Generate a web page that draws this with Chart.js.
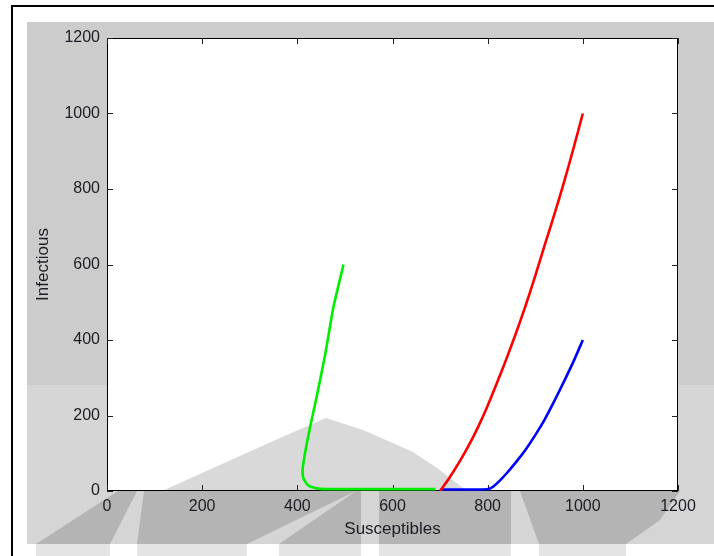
<!DOCTYPE html>
<html><head><meta charset="utf-8">
<script src="https://cdn.jsdelivr.net/npm/chart.js@4.4.0/dist/chart.umd.min.js"></script>
<style>html,body{margin:0;padding:0;background:#fff;overflow:hidden}canvas{display:block}</style>
</head><body>
<canvas id="c" width="714" height="556"></canvas>
<script>
// ---- data ----
const xTicks = [0, 200, 400, 600, 800, 1000, 1200];
const yTicks = [0, 200, 400, 600, 800, 1000, 1200];
const xTitle = 'Susceptibles';
const yTitle = 'Infectious';

const redS   = [1000, 980, 960, 940, 920, 900, 880, 860, 840, 820, 800, 780, 760, 740, 720, 700];
const redI   = [1000, 906, 816, 732, 652, 570, 492, 420, 352, 288, 226, 170, 120, 76, 36, 0];

const blueS  = [1000, 980, 960, 940, 920, 900, 880, 860, 840, 825, 812, 802, 790, 760, 730, 700];
const blueI  = [400, 342, 289, 238, 190, 148, 110, 77, 47, 27, 12, 5, 4, 4, 4, 4];

const greenS = [497, 476, 458, 441, 427, 416, 411, 413, 423, 441, 460, 500, 550, 600, 650, 690];
const greenI = [600, 488, 358, 252, 170, 99, 55, 33, 15, 7, 5, 5, 5, 5, 5, 5];

const FONT = '"Liberation Sans", Arial, sans-serif';
const TXT = '#1c1c24';

function pts(xs, ys) { return xs.map((x, i) => ({x: x, y: ys[i]})); }
function poly(ctx, p, color) {
  ctx.fillStyle = color; ctx.beginPath();
  p.forEach((q, i) => i ? ctx.lineTo(q[0], q[1]) : ctx.moveTo(q[0], q[1]));
  ctx.closePath(); ctx.fill();
}

const backdrop = {
  id: 'backdrop',
  beforeDraw(chart) {
    const ctx = chart.ctx, a = chart.chartArea;
    ctx.save();
    ctx.fillStyle = '#ffffff'; ctx.fillRect(0, 0, 714, 556);
    // figure background
    ctx.fillStyle = '#cccccc'; ctx.fillRect(27, 22, 687, 363);
    ctx.fillStyle = '#d5d5d5'; ctx.fillRect(27, 385, 687, 159);
    // watermark bands under the axes
    const dark = '#b4b4b4';
    poly(ctx, [[36,544],[110,544],[137,491],[118,491]], dark);
    poly(ctx, [[137,544],[247,544],[356,491],[144,491]], dark);
    poly(ctx, [[279,544],[361,544],[361,491],[356,491]], dark);
    poly(ctx, [[379,491],[511,491],[511,544],[379,544]], dark);
    poly(ctx, [[520,491],[680,491],[660,520],[626,544],[539,544]], dark);
    // faint shapes in the bottom strip
    const faint = '#e4e4e4';
    [[36,110],[137,247],[279,361],[379,511],[539,626]].forEach(r => { ctx.fillStyle = faint; ctx.fillRect(r[0], 544, r[1]-r[0], 12); });
    // outer frame
    ctx.fillStyle = '#000'; ctx.fillRect(11, 5, 703, 2); ctx.fillRect(11, 5, 2, 551);
    // plot area
    ctx.fillStyle = '#ffffff'; ctx.fillRect(a.left, a.top, a.right - a.left, a.bottom - a.top);
    poly(ctx, [[162,a.bottom],[280,438],[326,418],[363,430],[413,452],[437,468],[467,a.bottom]], '#d9d9d9');
    ctx.restore();
  }
};

const box = {
  id: 'box',
  beforeDatasetsDraw(chart) {
    const ctx = chart.ctx, a = chart.chartArea, sx = chart.scales.x, sy = chart.scales.y;
    ctx.save();
    ctx.strokeStyle = '#000'; ctx.lineWidth = 1;
    ctx.strokeRect(Math.round(a.left) + 0.5, Math.round(a.top) + 0.5, Math.round(a.right - a.left) - 1, Math.round(a.bottom - a.top) - 1);
    ctx.strokeStyle = '#222'; ctx.beginPath();
    const L = 6;
    xTicks.forEach(v => {
      const px = Math.round(sx.getPixelForValue(v)) + 0.5;
      ctx.moveTo(px, a.bottom); ctx.lineTo(px, a.bottom - L);
      ctx.moveTo(px, a.top); ctx.lineTo(px, a.top + L);
    });
    yTicks.forEach(v => {
      const py = Math.round(sy.getPixelForValue(v)) + 0.5;
      ctx.moveTo(a.left, py); ctx.lineTo(a.left + L, py);
      ctx.moveTo(a.right, py); ctx.lineTo(a.right - L, py);
    });
    ctx.stroke();
    ctx.restore();
  }
};

const lineDS = (label, xs, ys, color) => ({
  label, data: pts(xs, ys), showLine: true, borderColor: color, backgroundColor: color,
  borderWidth: 2.6, pointRadius: 0, tension: 0.2, fill: false
});

new Chart(document.getElementById('c'), {
  type: 'scatter',
  data: { datasets: [
    lineDS('red', redS, redI, '#ff0000'),
    lineDS('blue', blueS, blueI, '#0000ff'),
    lineDS('green', greenS, greenI, '#00ee00')
  ]},
  options: {
    responsive: false, animation: false, devicePixelRatio: 1,
    layout: { padding: { top: 38, right: 36, bottom: 0, left: 0 } },
    plugins: { legend: { display: false }, tooltip: { enabled: false } },
    scales: {
      x: {
        type: 'linear', min: 0, max: 1200,
        afterBuildTicks: s => { s.ticks = xTicks.map(v => ({value: v})); },
        ticks: { color: TXT, font: { family: FONT, size: 16 }, padding: 6, maxRotation: 0, autoSkip: false, callback: v => String(v) },
        grid: { display: false, drawTicks: false }, border: { display: false },
        title: { display: true, text: xTitle, color: TXT, font: { family: FONT, size: 17 }, padding: { top: 0, bottom: 16 } },
        afterFit: s => { s.height = 65; }
      },
      y: {
        type: 'linear', min: 0, max: 1200,
        afterBuildTicks: s => { s.ticks = yTicks.map(v => ({value: v})); },
        ticks: { color: TXT, font: { family: FONT, size: 16 }, padding: 7, autoSkip: false, callback: v => String(v) },
        grid: { display: false, drawTicks: false }, border: { display: false },
        title: { display: true, text: yTitle, color: TXT, font: { family: FONT, size: 17 }, padding: { top: 33, bottom: 0 } },
        afterFit: s => { s.width = 107; }
      }
    }
  },
  plugins: [backdrop, box]
});
</script>
</body></html>
